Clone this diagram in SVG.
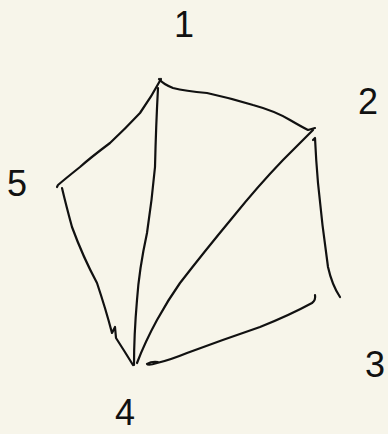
<svg xmlns="http://www.w3.org/2000/svg" width="388" height="434" viewBox="0 0 388 434">
<style>
.e{fill:none;stroke:#111;stroke-width:2.2;stroke-linecap:round;stroke-linejoin:round}
.l{font-family:"Liberation Sans",Arial,sans-serif;font-size:36px;fill:#111;text-anchor:middle}
</style>
<rect width="388" height="434" fill="#f7f5ea"/>
<g id="connectors">
<path class="e" d="M159 79 Q163 84 173 88 Q185 91 207 93 Q230 98 253 105 Q275 111 290 120 Q302 127 308 130 L315 128"/>
<path class="e" d="M161 79 Q152 96 140 113 Q125 129 110 143 Q90 158 80 167 Q65 179 58 185 L57 187"/>
<path class="e" d="M158 88 Q156 125 155 167 Q152 200 147 233 Q139 270 137 300 Q134 335 134 365"/>
<path class="e" d="M62 188 Q66 205 72 227 Q83 257 97 283 Q106 310 112 333 L115 327 L116 338 Q125 352 133 365"/>
<path class="e" d="M313 130 Q298 145 283 160 Q258 186 233 217 Q204 252 180 283 Q168 300 157 320 Q145 342 137 363"/>
<path class="e" d="M313 140 L315 138 Q316 160 318 183 Q322 225 328 267 Q332 285 340 297"/>
<path class="e" d="M315 295 Q316 300 312 303 Q290 315 260 327 Q222 340 187 353 Q170 360 157 363 Q148 366 147 364 Q152 361 158 362"/>
</g>
<g id="n1"><text class="l" x="184" y="37">1</text></g>
<g id="n2"><text class="l" x="368" y="114">2</text></g>
<g id="n3"><text class="l" x="375" y="377">3</text></g>
<g id="n4"><text class="l" x="125" y="425">4</text></g>
<g id="n5"><text class="l" x="17" y="196">5</text></g>
</svg>
